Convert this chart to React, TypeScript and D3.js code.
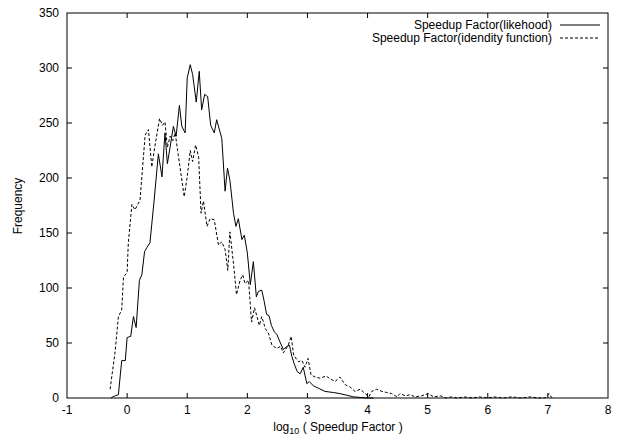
import React from "react";
import * as d3 from "d3";

const xTicks = [-1, 0, 1, 2, 3, 4, 5, 6, 7, 8];
const yTicks = [0, 50, 100, 150, 200, 250, 300, 350];

const likehoodX = [
  -0.27, -0.2, -0.145, -0.09, -0.03, 0.0, 0.06, 0.105, 0.15, 0.205, 0.245, 0.29, 0.33, 0.38,
  0.45, 0.52, 0.58, 0.63, 0.67, 0.715, 0.77, 0.815, 0.87, 0.91, 0.965, 1.0, 1.05, 1.09, 1.15,
  1.2, 1.24, 1.29, 1.34, 1.39, 1.45, 1.49, 1.575, 1.63, 1.67, 1.71, 1.77, 1.81, 1.85, 1.91,
  1.95, 2.0, 2.05, 2.1, 2.15, 2.185, 2.24, 2.28, 2.32, 2.36, 2.4, 2.45, 2.49, 2.55, 2.6,
  2.66, 2.7, 2.74, 2.78, 2.83, 2.88, 2.93, 2.99, 3.03, 3.1, 3.18, 3.29, 3.43, 3.54, 3.77,
  3.99, 4.1,
];
const likehoodY = [
  0, 2, 3, 34, 34, 55, 56, 74, 64, 107, 112, 133, 137, 141,
  180, 222, 201, 241, 213, 228, 247, 238, 266, 247, 241, 291, 303, 294, 269,
  297, 262, 276, 274, 248, 241, 253, 236, 188, 209, 198, 168, 156, 163, 144,
  148, 132, 103, 124, 92, 97, 98, 88, 76, 75, 66, 60, 58, 50, 44,
  47, 48, 38, 31, 24, 22, 28, 13, 15, 11, 9, 6, 5, 4, 1,
  0, 0,
];

const identityX = [
  -0.283, -0.2, -0.145, -0.09, -0.06, 0.0, 0.02, 0.08, 0.13, 0.215, 0.3, 0.355, 0.41, 0.465,
  0.54, 0.59, 0.63, 0.67, 0.715, 0.76, 0.8, 0.84, 0.88, 0.95, 1.0, 1.05, 1.09, 1.14, 1.19,
  1.23, 1.27, 1.33, 1.38, 1.45, 1.52, 1.575, 1.63, 1.675, 1.71, 1.77, 1.82, 1.88, 1.925,
  1.96, 2.02, 2.07, 2.12, 2.16, 2.2, 2.24, 2.3, 2.35, 2.41, 2.49, 2.55, 2.6, 2.68, 2.73,
  2.77, 2.85, 2.91, 2.96, 3.01, 3.06, 3.13, 3.21, 3.31, 3.39, 3.46, 3.54, 3.63, 3.71, 3.79,
  3.88, 3.96, 4.02, 4.07, 4.15, 4.24, 4.32, 4.4, 4.49, 4.54, 4.63, 4.71, 4.79, 4.9, 5.01,
  5.1, 5.21, 5.3, 5.4, 5.5, 5.6, 5.75, 5.85, 6.0, 6.1, 6.25, 6.4, 6.55, 6.7, 6.85, 6.95,
  7.02, 7.07,
];
const identityY = [
  8, 42, 74, 80, 110, 114, 141, 176, 171, 180, 239, 244, 210, 230,
  254, 248, 251, 228, 238, 234, 241, 225, 210, 183, 201, 225, 215, 230, 219,
  168, 179, 156, 163, 162, 139, 142, 135, 116, 151, 122, 94, 107, 112,
  104, 107, 69, 82, 74, 66, 74, 63, 59, 48, 45, 47, 41, 48, 56,
  39, 33, 34, 28, 36, 21, 19, 18, 20, 17, 15, 19, 12, 10, 6,
  8, 4, 1, 6, 8, 6, 5, 4, 1, 4, 2, 3, 1, 2, 4,
  1, 2, 0, 1, 0, 1, 0, 1, 0, 1, 0, 1, 0, 1, 0, 0,
  4, 0,
];

const seriesNames = ["Speedup Factor(likehood)", "Speedup Factor(idendity function)"];

const W = 624;
const H = 435;
const L = 67, R = 608, T = 13, B = 398;
const FONT = "'Liberation Sans', Arial, Helvetica, sans-serif";

export default function App() {
  const x = d3.scaleLinear().domain([-1, 8]).range([L, R]);
  const y = d3.scaleLinear().domain([0, 350]).range([B, T]);
  const line = d3
    .line<[number, number]>()
    .x((d) => x(d[0]))
    .y((d) => y(d[1]));
  const s1 = likehoodX.map((v, i) => [v, likehoodY[i]] as [number, number]);
  const s2 = identityX.map((v, i) => [v, identityY[i]] as [number, number]);
  const tick = 5;
  return (
    <svg
      width={W}
      height={H}
      style={{ position: "absolute", left: 0, top: 0, background: "#fff" }}
      fontFamily={FONT}
    >
      <rect x={0} y={0} width={W} height={H} fill="#fff" />
      {/* ticks */}
      {xTicks.slice(1, -1).map((t) => (
        <g key={"xt" + t} stroke="#000" strokeWidth={1}>
          <line x1={x(t)} x2={x(t)} y1={B} y2={B - tick} />
          <line x1={x(t)} x2={x(t)} y1={T} y2={T + tick} />
        </g>
      ))}
      {yTicks.slice(1, -1).map((t) => (
        <g key={"yt" + t} stroke="#000" strokeWidth={1}>
          <line x1={L} x2={L + tick} y1={y(t)} y2={y(t)} />
          <line x1={R} x2={R - tick} y1={y(t)} y2={y(t)} />
        </g>
      ))}
      {xTicks.map((t) => (
        <text key={"xl" + t} x={x(t)} y={414} fontSize={12} textAnchor="middle">
          {t}
        </text>
      ))}
      {yTicks.map((t) => (
        <text key={"yl" + t} x={59} y={y(t) + 4} fontSize={12} textAnchor="end">
          {t}
        </text>
      ))}
      {/* data */}
      <path d={line(s1) || ""} fill="none" stroke="#000" strokeWidth={1} />
      <path d={line(s2) || ""} fill="none" stroke="#000" strokeWidth={1} strokeDasharray="3,2" />
      {/* border */}
      <rect x={L} y={T} width={R - L} height={B - T} fill="none" stroke="#000" strokeWidth={1} />
      {/* legend */}
      <text x={552} y={29} fontSize={12} textAnchor="end">{seriesNames[0]}</text>
      <line x1={560} x2={600} y1={25} y2={25} stroke="#000" strokeWidth={1} />
      <text x={552} y={42} fontSize={12} textAnchor="end">{seriesNames[1]}</text>
      <line x1={560} x2={600} y1={38} y2={38} stroke="#000" strokeWidth={1} strokeDasharray="3,2" />
      {/* axis titles */}
      <text x={338} y={431} fontSize={12} textAnchor="middle">
        log<tspan fontSize={9} dy={3}>10</tspan>
        <tspan dy={-3}> ( Speedup Factor )</tspan>
      </text>
      <text
        x={0}
        y={0}
        fontSize={12}
        textAnchor="middle"
        transform={`translate(22,206) rotate(-90)`}
      >
        Frequency
      </text>
    </svg>
  );
}
